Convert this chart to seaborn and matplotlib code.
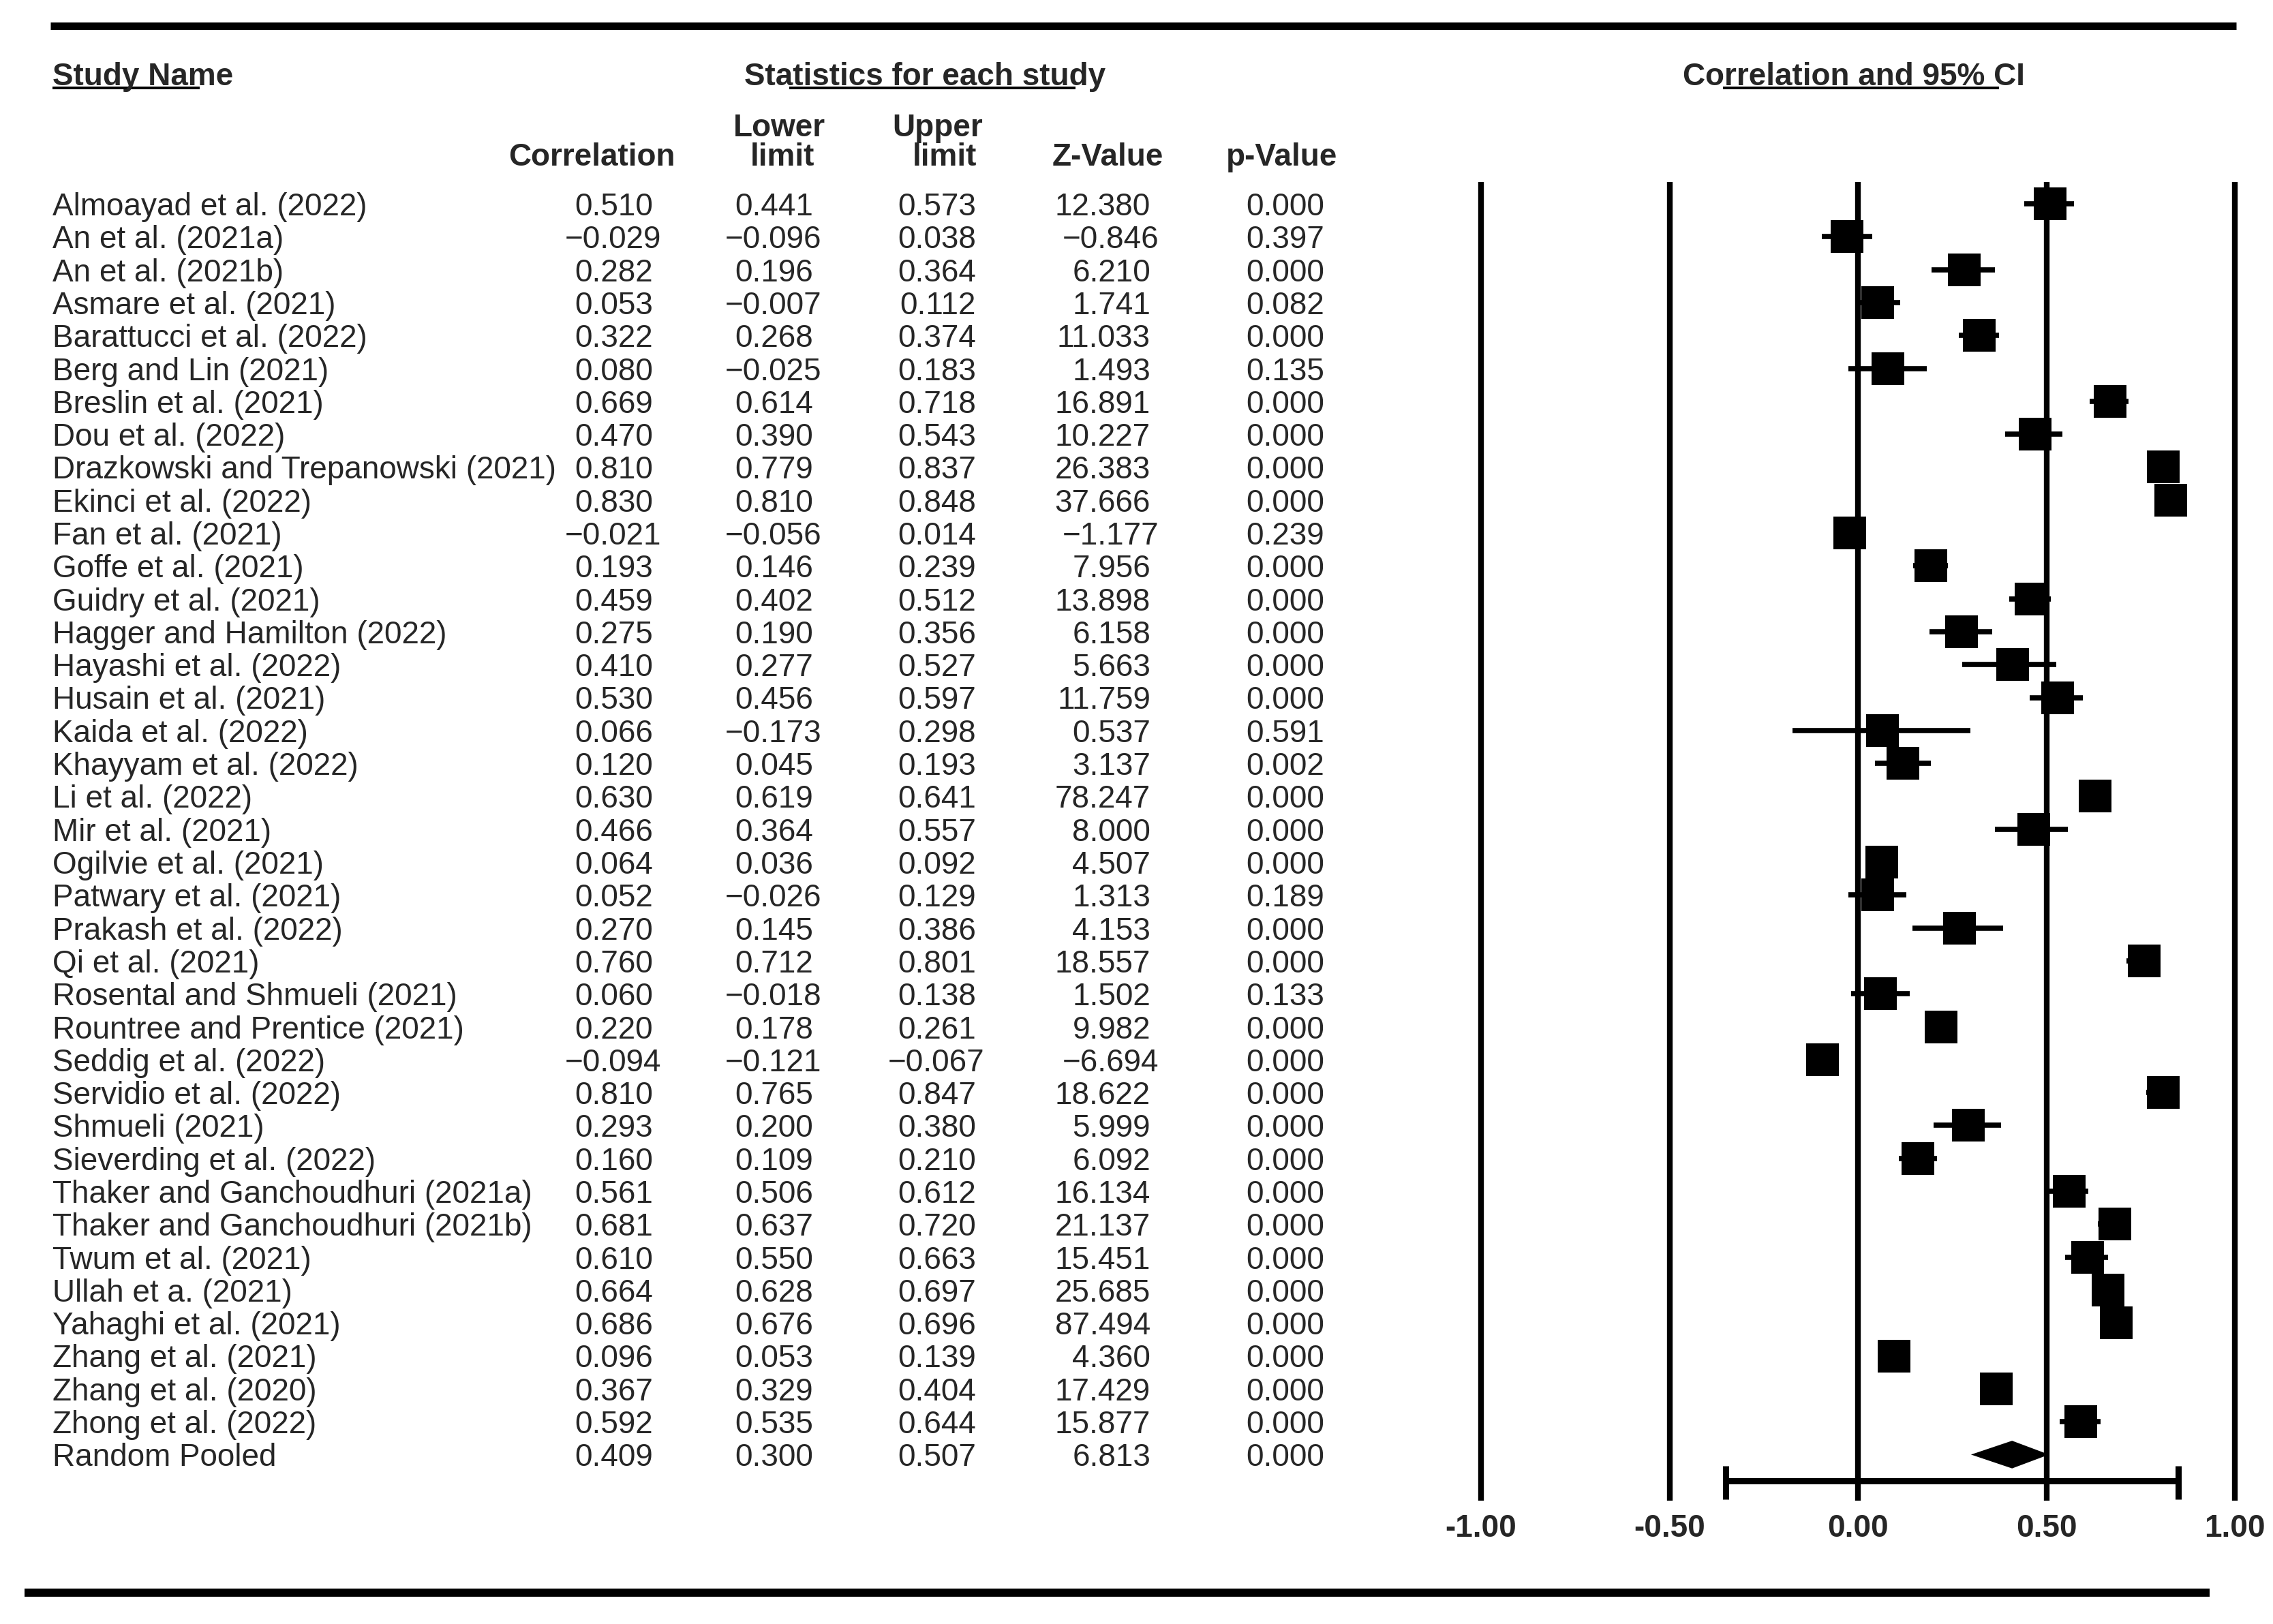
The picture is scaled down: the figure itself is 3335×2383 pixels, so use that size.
import matplotlib
matplotlib.use("Agg")
import matplotlib.pyplot as plt
import matplotlib.transforms as mtransforms
from matplotlib.lines import Line2D
import numpy as np
import pandas as pd
import seaborn as sns

# data
studies = ["Almoayad et al. (2022)", "An et al. (2021a)", "An et al. (2021b)",
           "Asmare et al. (2021)", "Barattucci et al. (2022)", "Berg and Lin (2021)",
           "Breslin et al. (2021)", "Dou et al. (2022)", "Drazkowski and Trepanowski (2021)",
           "Ekinci et al. (2022)", "Fan et al. (2021)", "Goffe et al. (2021)",
           "Guidry et al. (2021)", "Hagger and Hamilton (2022)", "Hayashi et al. (2022)",
           "Husain et al. (2021)", "Kaida et al. (2022)", "Khayyam et al. (2022)",
           "Li et al. (2022)", "Mir et al. (2021)", "Ogilvie et al. (2021)",
           "Patwary et al. (2021)", "Prakash et al. (2022)", "Qi et al. (2021)",
           "Rosental and Shmueli (2021)", "Rountree and Prentice (2021)", "Seddig et al. (2022)",
           "Servidio et al. (2022)", "Shmueli (2021)", "Sieverding et al. (2022)",
           "Thaker and Ganchoudhuri (2021a)", "Thaker and Ganchoudhuri (2021b)",
           "Twum et al. (2021)", "Ullah et a. (2021)", "Yahaghi et al. (2021)",
           "Zhang et al. (2021)", "Zhang et al. (2020)", "Zhong et al. (2022)"]
correlation = [0.510, -0.029, 0.282, 0.053, 0.322, 0.080, 0.669, 0.470, 0.810, 0.830,
               -0.021, 0.193, 0.459, 0.275, 0.410, 0.530, 0.066, 0.120, 0.630, 0.466,
               0.064, 0.052, 0.270, 0.760, 0.060, 0.220, -0.094, 0.810, 0.293, 0.160,
               0.561, 0.681, 0.610, 0.664, 0.686, 0.096, 0.367, 0.592]
lower = [0.441, -0.096, 0.196, -0.007, 0.268, -0.025, 0.614, 0.390, 0.779, 0.810,
         -0.056, 0.146, 0.402, 0.190, 0.277, 0.456, -0.173, 0.045, 0.619, 0.364,
         0.036, -0.026, 0.145, 0.712, -0.018, 0.178, -0.121, 0.765, 0.200, 0.109,
         0.506, 0.637, 0.550, 0.628, 0.676, 0.053, 0.329, 0.535]
upper = [0.573, 0.038, 0.364, 0.112, 0.374, 0.183, 0.718, 0.543, 0.837, 0.848,
         0.014, 0.239, 0.512, 0.356, 0.527, 0.597, 0.298, 0.193, 0.641, 0.557,
         0.092, 0.129, 0.386, 0.801, 0.138, 0.261, -0.067, 0.847, 0.380, 0.210,
         0.612, 0.720, 0.663, 0.697, 0.696, 0.139, 0.404, 0.644]
z_value = [12.380, -0.846, 6.210, 1.741, 11.033, 1.493, 16.891, 10.227, 26.383, 37.666,
           -1.177, 7.956, 13.898, 6.158, 5.663, 11.759, 0.537, 3.137, 78.247, 8.000,
           4.507, 1.313, 4.153, 18.557, 1.502, 9.982, -6.694, 18.622, 5.999, 6.092,
           16.134, 21.137, 15.451, 25.685, 87.494, 4.360, 17.429, 15.877]
p_value = [0.000, 0.397, 0.000, 0.082, 0.000, 0.135, 0.000, 0.000, 0.000, 0.000,
           0.239, 0.000, 0.000, 0.000, 0.000, 0.000, 0.591, 0.002, 0.000, 0.000,
           0.000, 0.189, 0.000, 0.000, 0.133, 0.000, 0.000, 0.000, 0.000, 0.000,
           0.000, 0.000, 0.000, 0.000, 0.000, 0.000, 0.000, 0.000]

pooled_name = "Random Pooled"
pooled = [0.409, 0.300, 0.507, 6.813, 0.000]   # corr, lower, upper, z, p
pred_interval = [-0.35, 0.85]
x_ticks = [-1.0, -0.5, 0.0, 0.5, 1.0]

df = pd.DataFrame({"study": studies, "corr": correlation, "lower": lower,
                   "upper": upper, "z": z_value, "p": p_value})
df["row"] = np.arange(len(df))
pooled_row = len(df)

sns.set_theme(style="white")
plt.rcParams["font.family"] = ["Liberation Sans", "DejaVu Sans"]

W, H = 3335, 2383
fig = plt.figure(figsize=(W / 100, H / 100), dpi=100)
fs = 33

# pixel layout of the forest panel
top_px, bot_px, row0_px, row_h = 267, 2202, 299, 48.3
Y_TOP = -(row0_px - top_px) / row_h
Y_BOT = (bot_px - row0_px) / row_h

# forest panel (x: correlation, y: row index)
ax = fig.add_axes([2173 / W, 1 - bot_px / H, (3279 - 2173) / W, (bot_px - top_px) / H])
for s in ax.spines.values():
    s.set_visible(False)
ax.set_yticks([])
ax.vlines(x_ticks, Y_TOP, Y_BOT, color="black", lw=6, clip_on=False, zorder=1)

ax.hlines(df["row"], df["lower"], df["upper"], color="black", lw=5.5, zorder=2, clip_on=False)
sns.scatterplot(data=df, x="corr", y="row", marker="s", s=1150, color="black",
                linewidth=0, ax=ax, legend=False, zorder=3, clip_on=False)
ax.set_xlabel("")
ax.set_ylabel("")

# pooled diamond
h = 0.42
ax.fill([pooled[1], pooled[0], pooled[2], pooled[0]],
        [pooled_row, pooled_row - h, pooled_row, pooled_row + h],
        color="black", lw=0, zorder=3, clip_on=False)

# prediction interval bar
yb = pooled_row + 0.8
ax.hlines(yb, pred_interval[0], pred_interval[1], color="black", lw=6.5, clip_on=False)
ax.vlines(pred_interval, yb - 0.45, yb + 0.55, color="black", lw=6.5, clip_on=False)

ax.set_xticks(x_ticks)
ax.set_xticklabels([f"{t:.2f}" for t in x_ticks], fontsize=fs, fontweight="bold")
ax.tick_params(axis="x", length=0, pad=14)
ax.set_xlim(-1, 1)
ax.set_ylim(Y_BOT, Y_TOP)

# table text, y tied to the forest rows
tr = mtransforms.blended_transform_factory(fig.transFigure, ax.transData)


def fmt(v):
    return f"{v:.3f}".replace("-", "\u2212")


col_right = [958, 1193, 1432, 1688, 1943]
neg_shift = 12
rows = list(zip(studies, correlation, lower, upper, z_value, p_value))
rows.append((pooled_name, *pooled))
for i, r in enumerate(rows):
    fig.text(77 / W, i, r[0], transform=tr, fontsize=fs, ha="left", va="center_baseline")
    for xr, v in zip(col_right, r[1:]):
        xx = xr + (neg_shift if v < 0 else 0)
        fig.text(xx / W, i, fmt(v), transform=tr, fontsize=fs, ha="right", va="center_baseline")


def ftext(x, y, s, **kw):
    fig.text(x / W, 1 - y / H, s, fontsize=fs, fontweight="bold", va="baseline", **kw)


def fline(x0, x1, y, lw):
    fig.add_artist(Line2D([x0 / W, x1 / W], [1 - y / H, 1 - y / H], color="black",
                          lw=lw, solid_capstyle="butt", transform=fig.transFigure))


# headers
ftext(77, 125, "Study Name", ha="left")
ftext(1357, 125, "Statistics for each study", ha="center")
ftext(2720, 125, "Correlation and 95% CI", ha="center")
fline(77, 293, 129, 2.8)
fline(1158, 1578, 129, 2.8)
fline(2528, 2933, 129, 2.8)

ftext(991, 243, "Correlation", ha="right")
ftext(1143, 200, "Lower", ha="center")
ftext(1148, 243, "limit", ha="center")
ftext(1376, 200, "Upper", ha="center")
ftext(1386, 243, "limit", ha="center")
ftext(1707, 243, "Z-Value", ha="right")
ftext(1962, 243, "p-Value", ha="right")

# top and bottom rules
fline(74, 3281, 37.5, 8)
fline(36, 3242, 2337, 8.6)

fig.savefig("out.png", dpi=100)
